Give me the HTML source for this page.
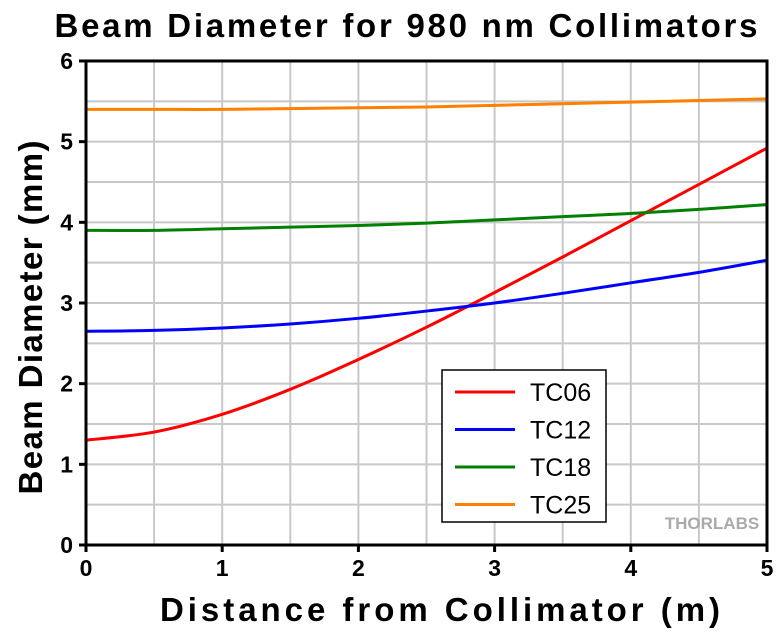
<!DOCTYPE html>
<html><head><style>body{margin:0;background:#fff}svg{display:block;font-family:"Liberation Sans",Arial,sans-serif}</style></head>
<body>
<svg id="c" width="780" height="632">
<text x="407" y="37" text-anchor="middle" font-size="33" font-weight="bold" letter-spacing="2" textLength="705">Beam Diameter for 980 nm Collimators</text>
<text x="441" y="621" text-anchor="middle" font-size="33" font-weight="bold" letter-spacing="2" textLength="562">Distance from Collimator (m)</text>
<text transform="translate(42,317) rotate(-90)" text-anchor="middle" font-size="33" font-weight="bold" letter-spacing="1" textLength="355">Beam Diameter (mm)</text>
<g id="grid"></g><g id="series"></g><g id="axes"></g>
<text x="712" y="529" text-anchor="middle" font-size="17" font-weight="bold" fill="#aaa">THORLABS</text>
<g id="legend"></g>
</svg>
<script>
const xs=[0,0.5,1,1.5,2,2.5,3,3.5,4,4.5,5];
const tc06=[1.3,1.4,1.62,1.93,2.3,2.7,3.13,3.57,4.02,4.47,4.92];
const tc12=[2.65,2.66,2.69,2.74,2.81,2.9,3.0,3.12,3.25,3.38,3.53];
const tc18=[3.9,3.9,3.92,3.94,3.96,3.99,4.03,4.07,4.11,4.16,4.22];
const tc25=[5.4,5.4,5.4,5.41,5.42,5.43,5.45,5.47,5.49,5.51,5.53];
const xTicks=[0,1,2,3,4,5];
const yTicks=[0,1,2,3,4,5,6];
const names=["TC06","TC12","TC18","TC25"];
const colors=["#ff0000","#0000ff","#008000","#ff8000"];
const X=v=>86+v*136.2, Y=v=>545-v*80.67;
const NS="http://www.w3.org/2000/svg";
function mk(t,a,p){const e=document.createElementNS(NS,t);for(const k in a)e.setAttribute(k,a[k]);p.appendChild(e);return e;}
function smooth(pts){let d='M'+pts[0][0]+','+pts[0][1];for(let i=0;i<pts.length-1;i++){const p0=pts[Math.max(i-1,0)],p1=pts[i],p2=pts[i+1],p3=pts[Math.min(i+2,pts.length-1)];
d+=' C'+(p1[0]+(p2[0]-p0[0])/6)+','+(p1[1]+(p2[1]-p0[1])/6)+' '+(p2[0]-(p3[0]-p1[0])/6)+','+(p2[1]-(p3[1]-p1[1])/6)+' '+p2[0]+','+p2[1];}return d;}
const grid=document.getElementById('grid'),axes=document.getElementById('axes'),ser=document.getElementById('series'),leg=document.getElementById('legend');
for(let v=0.5;v<5;v+=0.5){const l=mk('line',{x1:X(v),x2:X(v),y1:Y(6),y2:Y(0),stroke:'#c8c8c8','stroke-width':2},grid);

}
for(let v=0.5;v<6;v+=0.5){const l=mk('line',{x1:X(0),x2:X(5),y1:Y(v),y2:Y(v),stroke:'#c8c8c8','stroke-width':2},grid);

}
const frame=mk('rect',{x:X(0),y:Y(6),width:X(5)-X(0),height:Y(0)-Y(6),fill:'none',stroke:'#000','stroke-width':3},axes);


xTicks.forEach(v=>{mk('line',{x1:X(v),x2:X(v),y1:Y(0),y2:Y(0)+7,stroke:'#000','stroke-width':3},axes);
const t=mk('text',{x:X(v),y:Y(0)+31,'text-anchor':'middle','font-size':23,'font-weight':'bold'},axes);t.textContent=v;

});
yTicks.forEach(v=>{mk('line',{x1:X(0)-7,x2:X(0),y1:Y(v),y2:Y(v),stroke:'#000','stroke-width':3},axes);
const t=mk('text',{x:X(0)-13,y:Y(v)+8,'text-anchor':'end','font-size':23,'font-weight':'bold'},axes);t.textContent=v;

});
[tc06,tc12,tc18,tc25].forEach((d,i)=>{const p=mk('path',{d:smooth(xs.map((x,j)=>[X(x),Y(d[j])])),fill:'none',stroke:colors[i],'stroke-width':3},ser);

});
const box=mk('rect',{x:442,y:370,width:164,height:152,fill:'#fff',stroke:'#000','stroke-width':1.5},leg);


names.forEach((n,i)=>{const y=392+i*37.5;
const g=mk('g',{},leg);


mk('line',{x1:455,x2:515,y1:y,y2:y,stroke:colors[i],'stroke-width':3},g);
const t=mk('text',{x:530,y:y+9,'font-size':25},g);t.textContent=n;});
</script>
</body></html>
